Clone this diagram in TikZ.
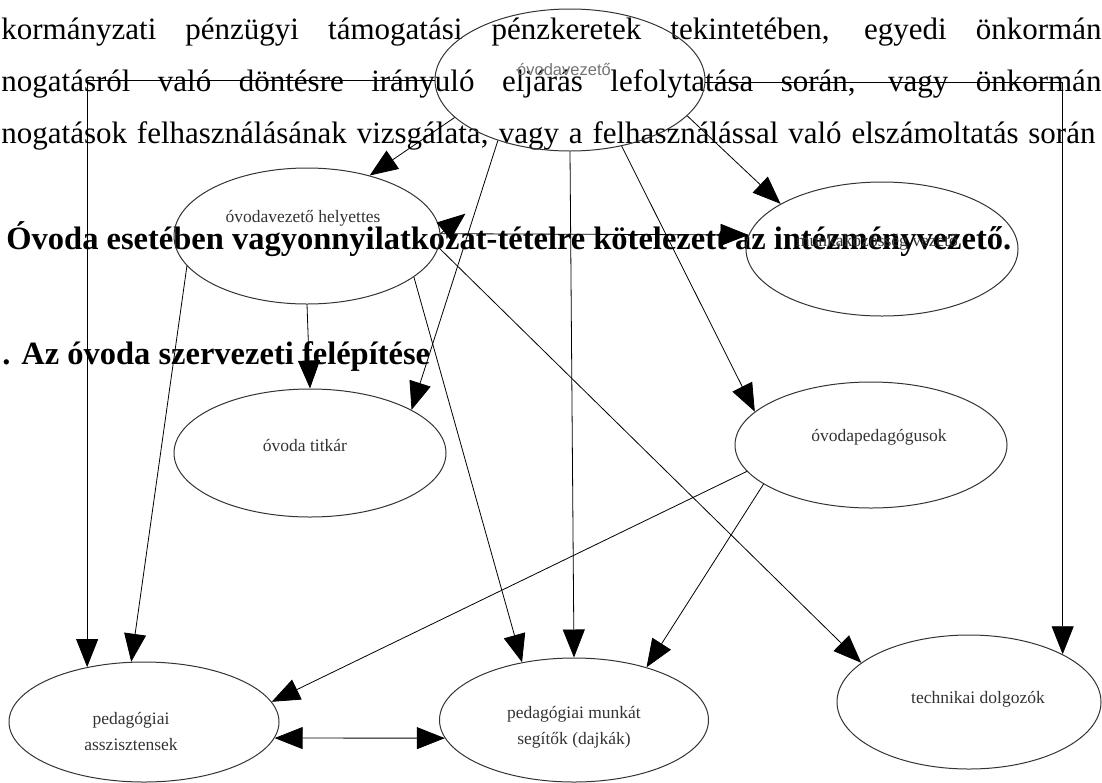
\documentclass[tikz,border=0pt]{standalone}
\usepackage{fontspec}
\setmainfont{Liberation Serif}
\newfontfamily\vezfont{Liberation Sans}
\usetikzlibrary{arrows.meta,shapes.geometric}

\begin{document}
\begin{tikzpicture}[x=1pt,y=-1pt,->,>={Triangle[length=28pt,width=22pt]},%
        line width=0.8pt,
        oval/.style={ellipse,draw=black!80,line width=1pt,inner sep=0pt},
        lab/.style={font=\fontsize{17.5}{26}\selectfont,text=black!80,align=center,inner sep=0pt},
        body/.style={font=\fontsize{31}{36}\selectfont,anchor=base west,inner sep=0pt},
        head/.style={font=\fontsize{32.5}{36}\selectfont\bfseries,anchor=base west,inner sep=0pt}]
        \useasboundingbox (0,0) rectangle (1102,782);

        \node[body]                     at (1,39)       (sor1)  {\makebox[1100pt][s]{kormányzati pénzügyi támogatási pénzkeretek tekintetében, egyedi önkormán}};
        \node[body]                     at (1,91)       (sor2)  {\makebox[1100pt][s]{nogatásról való döntésre irányuló eljárás lefolytatása során, vagy önkormán}};
        \node[body]                     at (1,143)      (sor3)  {\makebox[1094pt][s]{nogatások felhasználásának vizsgálata, vagy a felhasználással való elszámoltatás során}};
        \node[head]                     at (6,249)      (cim1)  {Óvoda esetében vagyonnyilatkozat-tételre kötelezett az intézményvezető.};
        \node[head]                     at (2,364)      (cim2)  {. Az óvoda szervezeti felépítése};

        \node[oval,minimum width=270pt,minimum height=142pt]  at (570,80)     (vez)   {};
        \node[oval,minimum width=266pt,minimum height=136pt]  at (307,236)    (hely)  {};
        \node[oval,minimum width=272pt,minimum height=134pt]  at (882,249)    (mkv)   {};
        \node[oval,minimum width=272pt,minimum height=128pt]  at (310,453)    (titk)  {};
        \node[oval,minimum width=272pt,minimum height=126pt]  at (871,445)    (opg)   {};
        \node[oval,minimum width=270pt,minimum height=120pt]  at (144,722)    (asz)   {};
        \node[oval,minimum width=269pt,minimum height=124pt]  at (574,720)    (pmsg)  {};
        \node[oval,minimum width=264pt,minimum height=134pt]  at (969,702)    (tech)  {};

        \node[lab,font=\vezfont\fontsize{16.5}{20}\selectfont,text=black!55]
                                        at (564,70)     (vezl)  {óvodavezető};
        \node[lab]                      at (303,218)    (helyl) {óvodavezető helyettes};
        \node[lab]                      at (877,242)    (mkvl)  {munkaközösség vezető};
        \node[lab]                      at (305,445)    (titkl) {óvoda titkár};
        \node[lab]                      at (879,437)    (opgl)  {óvodapedagógusok};
        \node[lab]                      at (131,731)    (aszl)  {pedagógiai\\asszisztensek};
        \node[lab]                      at (574,727)    (pmsgl) {pedagógiai munkát\\segítők (dajkák)};
        \node[lab]                      at (978,699)    (techl) {technikai dolgozók};

        \draw (vez.west)  -| (asz.136);
        \draw (vez.-1)    -| (tech.27);
        \draw (vez.198)   -- (hely.44);
        \draw (vez.-17)   -- (mkv.156);
        \draw (vez.south) -- (pmsg.north);
        \draw (vez.-52)   -- (opg.164);
        \draw (vez.220)   -- (titk.23);
        \draw (hely.south) -- (titk.north);
        \draw (hely.194)  -- (asz.102);
        \draw (hely.-21)  -- (pmsg.132);
        \draw (hely.-5)   -- (tech.160);
        \draw (hely.1)    -- (mkv.174);
        \draw (hely.1)    -- ++(25,-20);
        \draw (opg.192)   -- (asz.9);
        \draw (opg.200)   -- (pmsg.36);
        \draw[<->] (asz.-7) -- (pmsg.188);
    \end{tikzpicture}
\end{document}
